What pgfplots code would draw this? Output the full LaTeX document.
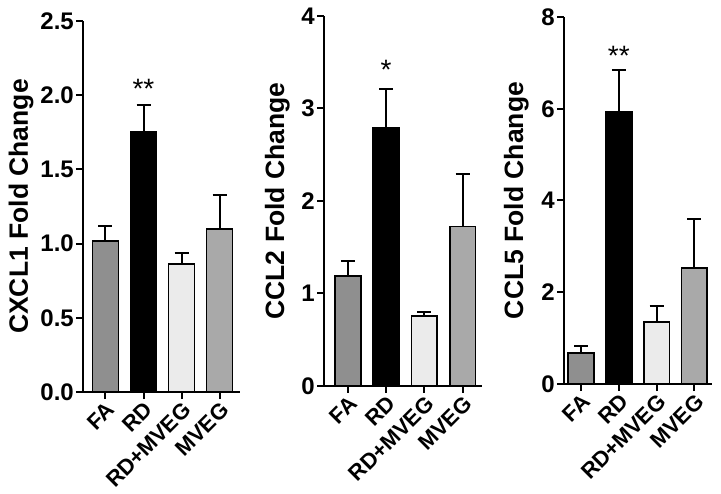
\documentclass[border=0pt]{standalone}
\usepackage{fontspec}
\setmainfont{Liberation Sans}
\usepackage{pgfplots}
\pgfplotsset{compat=1.18}
\definecolor{faC}{HTML}{8F8F8F}
\definecolor{rdC}{HTML}{000000}
\definecolor{rmC}{HTML}{EBEBEB}
\definecolor{mvC}{HTML}{A9A9A9}
\pgfplotsset{
  panel/.style={
    scale only axis, anchor=south west,
    ybar, bar width=0.68, ymin=0,
    axis x line*=bottom, axis y line*=left,
    axis line style={-, line width=2bp, black},
    tick align=outside, major tick length=7bp,
    every tick/.style={line width=2bp, black},
    xtick={0,1,2,3}, xticklabels={FA,RD,RD+MVEG,MVEG},
    xticklabel style={rotate=45, anchor=north east, font=\fontsize{22bp}{25bp}\selectfont\bfseries, inner sep=1bp},
    yticklabel style={font=\fontsize{24bp}{27bp}\selectfont\bfseries, inner sep=2bp},
    /pgf/number format/assume math mode=true,
    clip=false,
  },
  bstyle/.style={fill=#1, draw=black, line width=1.8bp, bar shift=0pt,
    error bars/.cd, y dir=plus, y explicit,
    error bar style={line width=2bp, black},
    error mark options={rotate=90, mark size=7bp, line width=2bp, black}},
  ylab/.style={every axis y label/.style={at={(axis description cs:0,0.5)}, xshift=#1, rotate=90, anchor=base, font=\fontsize{26.5bp}{30bp}\selectfont\bfseries}},
}
\begin{document}
\begin{tikzpicture}
\path[use as bounding box] (0,0) rectangle (721bp,494bp);
% Panel 1
\begin{axis}[panel, at={(83bp,102bp)}, width=156.5bp, height=371bp,
  xmin=-0.592, xmax=3.526, ymax=2.5, ytick={0,0.5,1,1.5,2,2.5},
  yticklabel style={/pgf/number format/.cd, fixed, fixed zerofill, precision=1},
  ylab=-55bp, ylabel={CXCL1 Fold Change}]
\addplot[bstyle=faC] coordinates {(0,1.02) +- (0,0.10)};
\addplot[bstyle=rdC] coordinates {(1,1.755) +- (0,0.18)};
\addplot[bstyle=rmC] coordinates {(2,0.86) +- (0,0.075)};
\addplot[bstyle=mvC] coordinates {(3,1.10) +- (0,0.225)};
\node[anchor=north, font=\fontsize{28bp}{30bp}\selectfont, inner sep=0pt] at (axis cs:1,2.11) {**};
\end{axis}
% Panel 2
\begin{axis}[panel, at={(324bp,108bp)}, width=157.5bp, height=370bp,
  xmin=-0.628, xmax=3.495, ymax=4, ytick={0,1,2,3,4},
  ylab=-40bp, ylabel={CCL2 Fold Change}]
\addplot[bstyle=faC] coordinates {(0,1.19) +- (0,0.16)};
\addplot[bstyle=rdC] coordinates {(1,2.79) +- (0,0.42)};
\addplot[bstyle=rmC] coordinates {(2,0.755) +- (0,0.05)};
\addplot[bstyle=mvC] coordinates {(3,1.725) +- (0,0.565)};
\node[anchor=north, font=\fontsize{28bp}{30bp}\selectfont, inner sep=0pt] at (axis cs:1,3.52) {*};
\end{axis}
% Panel 3
\begin{axis}[panel, at={(564bp,110bp)}, width=147.5bp, height=367bp,
  xmin=-0.45, xmax=3.452, ymax=8, ytick={0,2,4,6,8},
  ylab=-41bp, ylabel={CCL5 Fold Change}]
\addplot[bstyle=faC] coordinates {(0,0.67) +- (0,0.16)};
\addplot[bstyle=rdC] coordinates {(1,5.94) +- (0,0.90)};
\addplot[bstyle=rmC] coordinates {(2,1.36) +- (0,0.33)};
\addplot[bstyle=mvC] coordinates {(3,2.52) +- (0,1.07)};
\node[anchor=north, font=\fontsize{28bp}{30bp}\selectfont, inner sep=0pt] at (axis cs:1,7.36) {**};
\end{axis}
\end{tikzpicture}
\end{document}
